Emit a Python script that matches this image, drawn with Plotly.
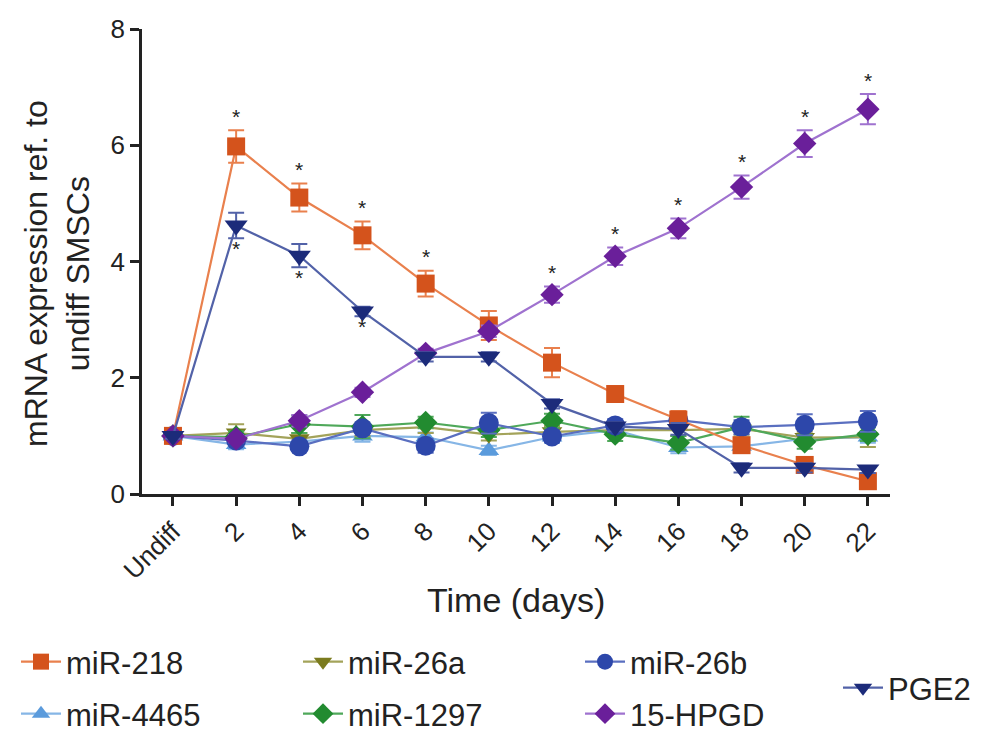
import plotly.graph_objects as go

categories = ["Undiff", "2", "4", "6", "8", "10", "12", "14", "16", "18", "20", "22"]

mir218 = [1.0, 5.98, 5.10, 4.45, 3.62, 2.90, 2.26, 1.72, 1.28, 0.84, 0.50, 0.22]
mir218_err = [0.05, 0.28, 0.24, 0.24, 0.22, 0.25, 0.25, 0.13, 0.15, 0.12, 0.08, 0.10]
mir4465 = [1.0, 0.85, 0.90, 1.00, 0.98, 0.75, 0.98, 1.10, 0.80, 0.82, 0.95, 0.98]
mir4465_err = [0.05, 0.08, 0.06, 0.10, 0.08, 0.08, 0.10, 0.10, 0.10, 0.10, 0.08, 0.10]
mir26a = [1.0, 1.05, 0.95, 1.10, 1.15, 1.02, 1.07, 1.10, 1.10, 1.12, 0.97, 0.98]
mir26a_err = [0.05, 0.15, 0.10, 0.10, 0.10, 0.10, 0.10, 0.10, 0.10, 0.10, 0.10, 0.17]
mir1297 = [1.0, 0.98, 1.20, 1.16, 1.23, 1.10, 1.26, 1.03, 0.88, 1.15, 0.90, 1.03]
mir1297_err = [0.05, 0.10, 0.15, 0.20, 0.10, 0.12, 0.12, 0.12, 0.12, 0.18, 0.12, 0.12]
mir26b = [1.0, 0.92, 0.82, 1.13, 0.83, 1.22, 0.99, 1.18, 1.27, 1.15, 1.19, 1.25]
mir26b_err = [0.05, 0.08, 0.08, 0.08, 0.12, 0.18, 0.10, 0.10, 0.12, 0.12, 0.18, 0.18]
hpgd = [1.0, 0.95, 1.26, 1.75, 2.42, 2.80, 3.43, 4.09, 4.57, 5.28, 6.03, 6.62]
hpgd_err = [0.05, 0.06, 0.10, 0.08, 0.08, 0.10, 0.14, 0.15, 0.17, 0.20, 0.23, 0.26]
pge2 = [1.0, 4.62, 4.10, 3.14, 2.36, 2.36, 1.55, 1.16, 1.12, 0.45, 0.45, 0.42]
pge2_err = [0.05, 0.22, 0.20, 0.08, 0.08, 0.08, 0.08, 0.08, 0.10, 0.08, 0.08, 0.06]

sig_mir218 = [1, 2, 3, 4]
sig_pge2 = [1, 2, 3]
sig_hpgd = [6, 7, 8, 9, 10, 11]

FONT = "Liberation Sans, Arial, sans-serif"

# page body offset (default html body margin) and target plot box in screen px
OFF = 8
X0, X1, Y0, Y1 = 142, 890, 29, 494


def px(x):
    return (x - X0) / (X1 - X0)


def py(y):
    return (Y1 - y) / (Y1 - Y0)


series = [
    # name, values, err, marker color, line color, symbol, size, legend
    ("miR-4465", mir4465, mir4465_err, "#5B9BDC", "#86B6E6", "triangle-up", 18, "legend2"),
    ("miR-26a", mir26a, mir26a_err, "#7B7B1E", "#A3A35A", "triangle-down", 18, "legend"),
    ("miR-1297", mir1297, mir1297_err, "#228B30", "#4FA85A", "diamond", 18, "legend2"),
    ("miR-26b", mir26b, mir26b_err, "#2D47AA", "#5A6FC0", "circle", 20, "legend"),
    ("miR-218", mir218, mir218_err, "#D4531C", "#E9804D", "square", 18, "legend"),
    ("15-HPGD", hpgd, hpgd_err, "#6A1F9A", "#9F72CF", "diamond", 18, "legend2"),
    ("PGE2", pge2, pge2_err, "#1C2B7A", "#5262A8", "triangle-down", 20, "legend3"),
]

legend_rank = {"miR-218": 1, "miR-26a": 2, "miR-26b": 3,
               "miR-4465": 4, "miR-1297": 5, "15-HPGD": 6, "PGE2": 7}

fig = go.Figure()
for name, vals, err, mc, lc, sym, size, leg in series:
    fig.add_trace(go.Scatter(
        x=categories, y=vals, name=name, mode="lines+markers",
        line=dict(color=lc, width=2.2),
        marker=dict(color=mc, symbol=sym, size=size, line=dict(width=0)),
        error_y=dict(type="data", array=err, visible=True, color=lc,
                     thickness=2, width=8),
        legend=leg, legendrank=legend_rank[name],
    ))

star_font = dict(size=21, color="#222", family=FONT)
annotations = []
for i in sig_mir218:
    annotations.append(dict(x=i, y=mir218[i] + mir218_err[i], text="*",
                            showarrow=False, yshift=14, font=star_font))
for i in sig_hpgd:
    annotations.append(dict(x=i, y=hpgd[i] + hpgd_err[i], text="*",
                            showarrow=False, yshift=14, font=star_font))
for i in sig_pge2:
    annotations.append(dict(x=i, y=pge2[i] - pge2_err[i], text="*",
                            showarrow=False, yshift=-10, font=star_font))

annotations.append(dict(xref="paper", yref="paper", x=px(57), y=py(274),
                        text="mRNA expression ref. to<br>undiff SMSCs", textangle=-90,
                        showarrow=False, xanchor="center", yanchor="middle",
                        font=dict(size=32, color="#222", family=FONT)))
annotations.append(dict(xref="paper", yref="paper", x=px(516), y=py(600),
                        text="Time (days)", showarrow=False, xanchor="center", yanchor="middle",
                        font=dict(size=34, color="#222", family=FONT)))

leg_common = dict(orientation="h", xanchor="left", yanchor="middle",
                  itemwidth=40,
                  entrywidth=227, entrywidthmode="pixels", bgcolor="rgba(0,0,0,0)",
                  font=dict(size=31, color="#222", family=FONT), traceorder="normal")

fig.update_layout(
    width=992, height=751,
    paper_bgcolor="white", plot_bgcolor="white",
    margin=dict(l=X0 - OFF, r=992 - (X1 - OFF), t=Y0 - OFF, b=751 - (Y1 - OFF),
                autoexpand=False),
    showlegend=True,
    font=dict(family=FONT, color="#222"),
    xaxis=dict(
        type="category", range=[-0.49, 11.35],
        showline=True, linecolor="#222", linewidth=2.5,
        ticks="outside", ticklen=9, tickwidth=2.5, tickcolor="#222",
        tickangle=-45, tickfont=dict(size=26, color="#222", family=FONT),
        showgrid=False, zeroline=False,
    ),
    yaxis=dict(
        range=[0, 8], tickvals=[0, 2, 4, 6, 8],
        showline=True, linecolor="#222", linewidth=2.5,
        ticks="outside", ticklen=9, tickwidth=2.5, tickcolor="#222",
        tickfont=dict(size=26, color="#222", family=FONT),
        showgrid=False, zeroline=False,
    ),
    legend=dict(x=px(16), y=py(662), **leg_common),
    legend2=dict(x=px(16), y=py(714), **leg_common),
    legend3=dict(x=px(838), y=py(688), **leg_common),
    annotations=annotations,
)

fig.write_html("out.html")
